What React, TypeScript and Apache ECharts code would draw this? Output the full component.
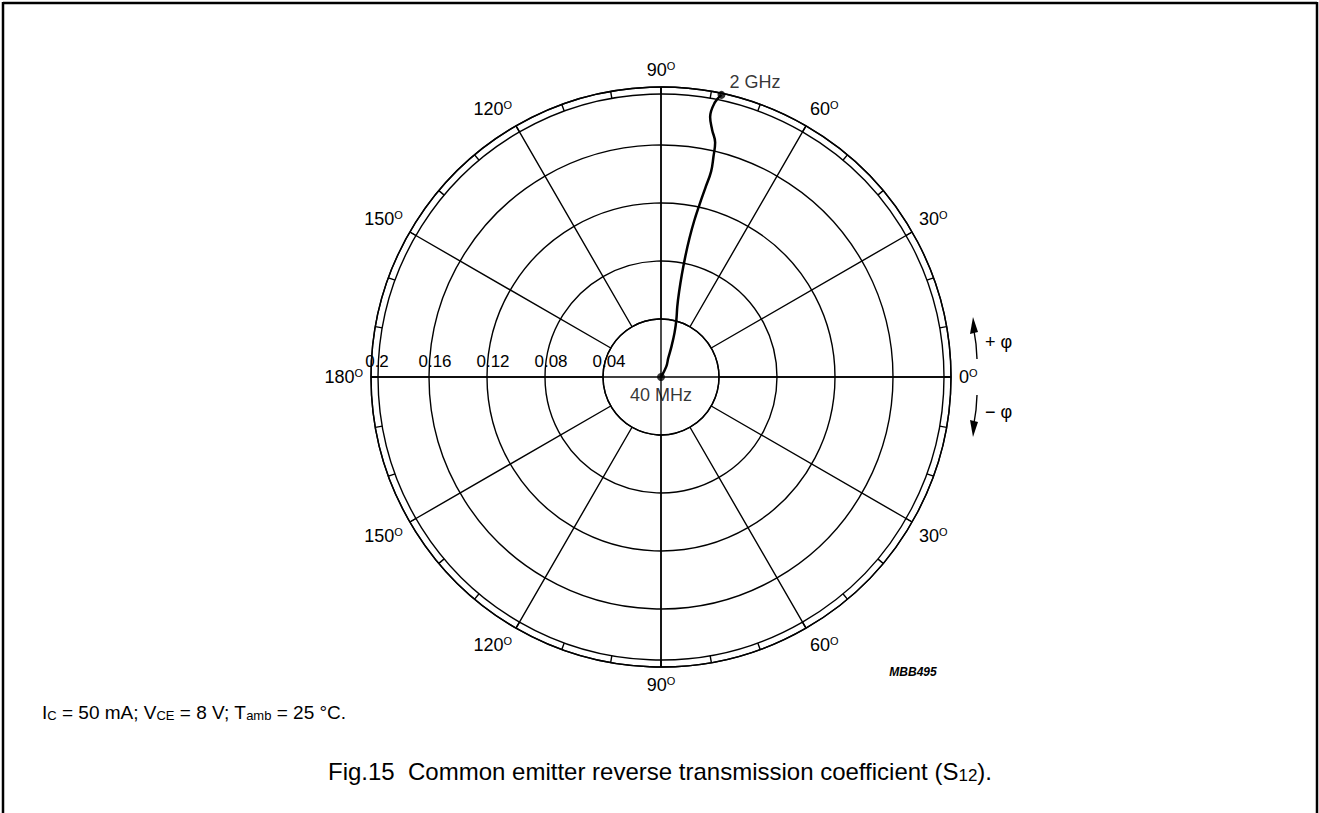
import React, { useEffect, useRef } from 'react';
import * as echarts from 'echarts';

// |S12| magnitude and phase (degrees) from 40 MHz (first) to 2 GHz (last)
const magnitude = [0, 0.008, 0.014, 0.022, 0.032, 0.041, 0.05, 0.06, 0.072, 0.085, 0.098, 0.11, 0.122, 0.134, 0.146, 0.156, 0.166, 0.174, 0.1825, 0.193, 0.199];
const phaseDeg = [60, 63, 69, 71, 73, 75, 77, 78, 78.5, 78.6, 78.4, 78, 77.4, 76.8, 76.3, 76.6, 77, 78.3, 79.3, 78.9, 77.9];
const endpointLabels = ['40 MHz', '2 GHz'];
const radiusMax = 0.2;
const radiusStep = 0.04;
const angleStep = 30;

const FONT = '"Liberation Sans", Arial, Helvetica, sans-serif';
const BLACK = '#000';

export default function App() {
  const ref = useRef<HTMLDivElement>(null);
  useEffect(() => {
    const chart = echarts.init(ref.current!, null, { renderer: 'svg' });
    const center = [661, 377];
    const R = 290;
    const grid = { color: BLACK, width: 1.4 };

    const curve = magnitude.map((m, i) => [m, phaseDeg[i]]);
    const ends = [curve[0], curve[curve.length - 1]];

    const option: any = {
      animation: false,
      backgroundColor: '#fff',
      textStyle: { fontFamily: FONT, color: BLACK },
      polar: [
        { center, radius: [0, R] },
        { center, radius: [R * radiusStep / radiusMax, R] },
        { center, radius: R - 7 },
        { center, radius: R },
      ],
      angleAxis: [
        {
          polarIndex: 0, type: 'value', startAngle: 0, clockwise: false, min: 0, max: 360, interval: 90,
          axisLine: { show: false }, axisTick: { show: false }, axisLabel: { show: false },
          splitLine: { show: true, lineStyle: grid },
        },
        {
          polarIndex: 1, type: 'value', startAngle: 0, clockwise: false, min: 0, max: 360, interval: angleStep,
          axisLine: { show: true, lineStyle: grid },
          axisTick: { show: true, inside: true, length: 7, lineStyle: grid },
          minorTick: { show: true, splitNumber: 3, length: 7, lineStyle: grid },
          splitLine: { show: true, lineStyle: grid },
          axisLabel: {
            show: true, margin: 8,
            formatter: (v: number) => {
              if (v >= 360) return '';
              const d = v <= 180 ? v : 360 - v;
              return `{n|${d}}{s|O}`;
            },
            rich: {
              n: { fontSize: 18, fontFamily: FONT, color: BLACK, lineHeight: 19 },
              s: { fontSize: 11, fontFamily: FONT, color: BLACK, verticalAlign: 'top', lineHeight: 11 },
            },
          },
        },
        {
          polarIndex: 2, type: 'value', startAngle: 0, clockwise: false, min: 0, max: 360,
          axisLine: { show: true, lineStyle: grid }, axisTick: { show: false }, axisLabel: { show: false },
          splitLine: { show: false },
        },
        {
          polarIndex: 3, type: 'value', startAngle: 180, min: 0, max: 360, show: false,
        },
      ],
      radiusAxis: [
        {
          polarIndex: 0, type: 'value', min: 0, max: radiusMax, interval: radiusStep,
          axisLine: { show: false }, axisTick: { show: false }, axisLabel: { show: false },
          splitLine: { show: true, lineStyle: grid },
        },
        { polarIndex: 1, type: 'value', min: radiusStep, max: radiusMax, show: false },
        { polarIndex: 2, type: 'value', min: 0, max: radiusMax, show: false },
        {
          polarIndex: 3, type: 'value', min: 0, max: radiusMax, interval: radiusStep,
          axisLine: { show: false }, axisTick: { show: false }, splitLine: { show: false },
          axisLabel: {
            show: true, margin: -24, fontSize: 17, fontFamily: FONT, color: BLACK,
            padding: [0, 0, 0, 12],
            formatter: (v: number) => (v === 0 ? '' : String(+v.toFixed(2))),
          },
        },
      ],
      series: [
        {
          type: 'line', coordinateSystem: 'polar', polarIndex: 0, data: curve,
          smooth: 0.4, symbol: 'none', lineStyle: { color: BLACK, width: 2.5 }, z: 5,
        },
        {
          type: 'scatter', coordinateSystem: 'polar', polarIndex: 0,
          data: [
            { value: ends[0], label: { position: 'bottom', distance: 5 } },
            { value: ends[1], label: { position: 'right', distance: 4, offset: [0, -13] } },
          ],
          symbolSize: 8, itemStyle: { color: BLACK }, z: 6,
          label: {
            show: true, fontSize: 18, fontFamily: FONT, color: BLACK,
            formatter: (p: any) => endpointLabels[p.dataIndex],
          },
          emphasis: { disabled: true },
        },
      ],
      graphic: [
        { type: 'line', shape: { x1: 3, y1: 3, x2: 1317, y2: 3 }, style: { stroke: BLACK, lineWidth: 2.5 } },
        { type: 'line', shape: { x1: 3, y1: 2, x2: 3, y2: 813 }, style: { stroke: BLACK, lineWidth: 2.5 } },
        { type: 'line', shape: { x1: 1317, y1: 2, x2: 1317, y2: 813 }, style: { stroke: BLACK, lineWidth: 2.5 } },
        // phase direction arrows
        { type: 'polyline', shape: { points: [[977, 359], [976, 344], [974, 331]] }, style: { stroke: BLACK, lineWidth: 1.4, fill: null } },
        { type: 'polygon', shape: { points: [[970, 334], [978, 332], [973, 317]] }, style: { fill: BLACK } },
        { type: 'polyline', shape: { points: [[977, 395], [976, 410], [974, 423]] }, style: { stroke: BLACK, lineWidth: 1.4, fill: null } },
        { type: 'polygon', shape: { points: [[970, 420], [978, 422], [973, 437]] }, style: { fill: BLACK } },
        { type: 'text', x: 985, y: 342, style: { text: '+ φ', font: `18px ${FONT}`, fill: BLACK, textVerticalAlign: 'middle' } },
        { type: 'text', x: 985, y: 412, style: { text: '− φ', font: `18px ${FONT}`, fill: BLACK, textVerticalAlign: 'middle' } },
        { type: 'text', x: 913, y: 672, style: { text: 'MBB495', font: `italic bold 12px ${FONT}`, fill: BLACK, textAlign: 'center', textVerticalAlign: 'middle' } },
        {
          type: 'text', x: 42, y: 712,
          style: {
            text: 'I{sub|C} = 50 mA; V{sub|CE} = 8 V; T{sub|amb} = 25 °C.',
            font: `19px ${FONT}`, fill: BLACK, textVerticalAlign: 'middle',
            rich: { sub: { fontSize: 13, fontFamily: FONT, fill: BLACK, verticalAlign: 'bottom', padding: [7, 0, 0, 0] } },
          },
        },
        {
          type: 'text', x: 660, y: 771,
          style: {
            text: 'Fig.15  Common emitter reverse transmission coefficient (S{sub|12}).',
            font: `24px ${FONT}`, fill: BLACK, textAlign: 'center', textVerticalAlign: 'middle',
            rich: { sub: { fontSize: 17, fontFamily: FONT, fill: BLACK, verticalAlign: 'bottom', padding: [9, 0, 0, 0] } },
          },
        },
      ],
    };
    chart.setOption(option);
    return () => chart.dispose();
  }, []);
  return <div ref={ref} style={{ position: 'fixed', left: 0, top: 0, width: 1319, height: 813, background: '#fff' }} />;
}
